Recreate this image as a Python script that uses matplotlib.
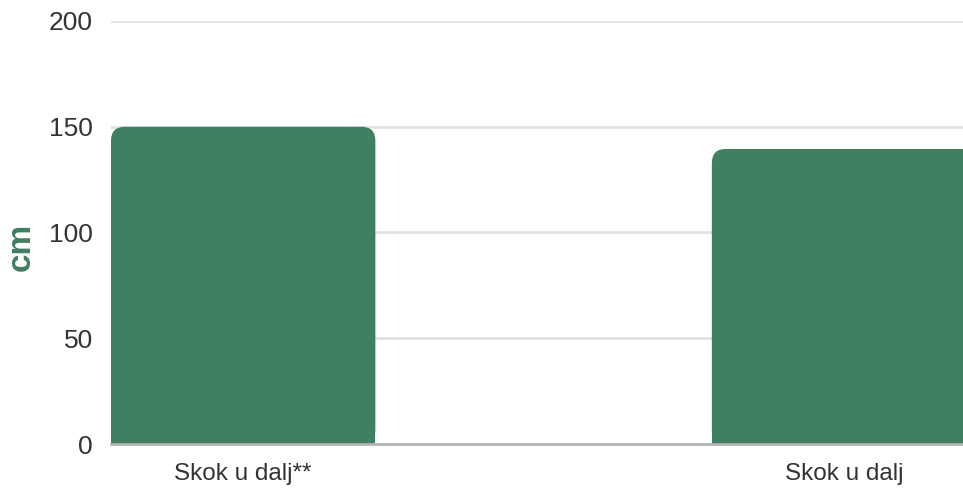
import matplotlib
matplotlib.use('Agg')
import matplotlib.pyplot as plt
from matplotlib.patches import FancyBboxPatch, Rectangle

# data
categories = ['Skok u dalj**', 'Skok u dalj']
values = [150, 139.5]
yticks = [0, 50, 100, 150, 200]

bar_color = '#417f62'
bar_w = 0.44

fig = plt.figure(figsize=(9.63, 4.91), dpi=100)
ax = fig.add_axes([111/963, 47/491, 1 - 111/963, (444-21)/491])

ax.set_xlim(-0.22, 1.198)
ax.set_ylim(0, 200)

# pixels per data unit, used to keep the corners round
px_x = 601.0
px_y = 423.0 / 200
r_px = 14
for i, v in enumerate(values):
    x0 = i - bar_w/2
    rr = r_px / px_x
    p = FancyBboxPatch((x0, 0), bar_w, v,
                       boxstyle='round,pad=0,rounding_size=%f' % rr,
                       mutation_aspect=px_x/px_y,
                       fc=bar_color, ec='none', zorder=3)
    ax.add_patch(p)
    ax.add_patch(Rectangle((x0, 0), bar_w, v/2, fc=bar_color, ec='none', zorder=3))

ax.set_yticks(yticks)
ax.set_xticks(range(len(categories)))
ax.set_xticklabels(categories)
ax.grid(axis='y', color='#e2e2e2', linewidth=2, zorder=0)
ax.set_axisbelow(True)

for s in ['top', 'right', 'left']:
    ax.spines[s].set_visible(False)
ax.spines['bottom'].set_color('#b3b3b3')
ax.spines['bottom'].set_linewidth(2)
ax.spines['bottom'].set_zorder(4)

ax.tick_params(axis='y', length=0, pad=13, labelsize=19, labelcolor='#333333')
ax.tick_params(axis='x', length=0, pad=14, labelsize=17.5, labelcolor='#333333')
for lab in ax.get_xticklabels() + ax.get_yticklabels():
    lab.set_family('Liberation Sans')

fig.text(21/963, 1 - 247/491, 'cm', rotation=90, ha='center', va='center',
         fontsize=24, fontweight='bold', color='#417f62', family='Liberation Sans')

fig.savefig('out.png', dpi=100)
